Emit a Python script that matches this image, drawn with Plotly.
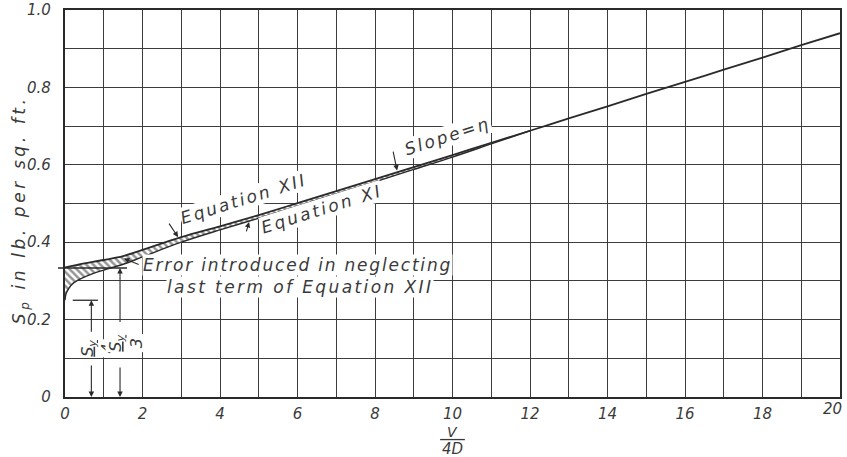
import plotly.graph_objects as go

# ---------------- data ----------------
x_ticks = list(range(0, 21))
x_ticktext = ["0", "", "2", "", "4", "", "6", "", "8", "", "10", "", "12", "", "14", "", "16", "", "18", "", "20"]
y_ticks = [0, 0.1, 0.2, 0.3, 0.4, 0.5, 0.6, 0.7, 0.8, 0.9, 1.0]
y_ticktext = ["0", "", "0.2", "", "0.4", "", "0.6", "", "0.8", "", "1.0"]

# Equation XII (upper curve, starts at Sy/3)
x_eq12 = [0, 0.25, 0.5, 1, 1.5, 2, 3, 4, 5, 6, 7, 8, 9, 10, 11, 12, 13, 14, 15, 16, 17, 18, 19, 20]
y_eq12 = [0.335, 0.340, 0.345, 0.354, 0.364, 0.380, 0.413, 0.441, 0.470, 0.501, 0.532, 0.563, 0.594,
          0.625, 0.657, 0.688, 0.720, 0.751, 0.783, 0.814, 0.846, 0.877, 0.909, 0.940]

# Equation XI (lower curve, starts at Sy/4)
x_eq11 = [0, 0.03, 0.1, 0.2, 0.4, 0.7, 1, 1.5, 2, 3, 4, 5, 6, 7, 8, 9, 10, 11, 12]
y_eq11 = [0.250, 0.268, 0.281, 0.293, 0.305, 0.318, 0.328, 0.343, 0.362, 0.400, 0.432, 0.462, 0.493,
          0.525, 0.556, 0.588, 0.620, 0.654, 0.688]

INK = "#2a2a2a"
TXT = "#3a3a3a"
FONT = "DejaVu Sans"


def spaced(t, px=2):
    return f'<span style="letter-spacing:{px}px">{t}</span>'


fig = go.Figure()

# hatched band between the two equations
band_x = x_eq12[:16] + x_eq11[::-1]
band_y = y_eq12[:16] + y_eq11[::-1]
fig.add_trace(go.Scatter(
    x=band_x, y=band_y, mode="lines", fill="toself", line=dict(width=0, color=INK),
    fillcolor="white",
    fillpattern=dict(shape="\\", fgcolor=INK, bgcolor="white", size=5, solidity=0.5),
    hoverinfo="skip", showlegend=False, line_shape="spline"))

fig.add_trace(go.Scatter(x=x_eq11, y=y_eq11, mode="lines", line=dict(color=INK, width=1.4, shape="spline"),
                         showlegend=False, name="Equation XI"))
fig.add_trace(go.Scatter(x=x_eq12, y=y_eq12, mode="lines", line=dict(color=INK, width=1.8, shape="spline"),
                         showlegend=False, name="Equation XII"))

tick_font = dict(family=FONT, size=15, color=TXT, style="italic")
axis_common = dict(showline=True, linecolor=INK, linewidth=2.2, mirror=True, automargin=False,
                   showgrid=True, gridcolor="#3c3c3c", gridwidth=1.3, zeroline=False,
                   ticks="", tickfont=tick_font)

# last x label drawn right-aligned so it stays inside the page
x_ticktext_axis = x_ticktext[:-1] + [""]

fig.update_layout(
    width=847, height=457,
    margin=dict(l=65, r=7, t=10, b=60),
    paper_bgcolor="white", plot_bgcolor="white",
    xaxis=dict(range=[0, 20], tickvals=x_ticks, ticktext=x_ticktext_axis, ticklabelstandoff=2, **axis_common),
    yaxis=dict(range=[0, 1.0], tickvals=y_ticks, ticktext=y_ticktext, ticklabelstandoff=9, **axis_common),
)
fig.add_annotation(xref="x", yref="paper", x=x_ticks[-1], y=0, xanchor="right", yanchor="top",
                   xshift=4, yshift=-1, showarrow=False, text=x_ticktext[-1], font=tick_font)

# axis titles
fig.add_annotation(xref="paper", yref="paper", x=-0.058, y=0.483, xanchor="center", yanchor="middle",
                   textangle=-90, showarrow=False,
                   text=spaced("S<sub>p</sub> in lb. per sq. ft.", 3.6),
                   font=dict(family=FONT, size=17, color=TXT, style="italic"))
fig.add_annotation(xref="x", yref="paper", x=10, y=0, yshift=-35, showarrow=False, yanchor="middle",
                   borderpad=0, text="V", font=dict(family=FONT, size=14, color=TXT, style="italic"))
fig.add_annotation(xref="x", yref="paper", x=10, y=0, yshift=-52, showarrow=False, yanchor="middle",
                   borderpad=0, text="4D", font=dict(family=FONT, size=15, color=TXT, style="italic"))
fig.add_shape(type="line", xref="x", yref="paper", x0=9.68, x1=10.32, y0=-0.11, y1=-0.11,
              line=dict(color=TXT, width=1.3))

lab_font = dict(family=FONT, size=17, color=TXT, style="italic")

# main labels
fig.add_annotation(x=1.98, y=0.341, xanchor="left", showarrow=False, bgcolor="white", borderpad=0,
                   text=spaced("Error introduced in neglecting", 1.8), font=lab_font)
fig.add_annotation(x=2.6, y=0.285, xanchor="left", showarrow=False, bgcolor="white", borderpad=0,
                   text=spaced("last term of Equation XII", 2.4), font=lab_font)
fig.add_annotation(x=4.6, y=0.512, textangle=-17.5, showarrow=False, bgcolor="white", borderpad=0,
                   text=spaced("Equation XII", 2.4), font=lab_font)
fig.add_annotation(x=6.63, y=0.485, textangle=-17.5, showarrow=False, bgcolor="white", borderpad=0,
                   text=spaced("Equation XI", 2.6), font=lab_font)
fig.add_annotation(x=9.88, y=0.674, textangle=-18, showarrow=False, bgcolor="white", borderpad=0,
                   text=spaced("Slope=η", 2.4), font=lab_font)

# leader arrows (head, tail)
leaders = [
    ((2.92, 0.413), (2.66, 0.452)),
    ((4.75, 0.452), (4.67, 0.424)),
    ((8.57, 0.585), (8.46, 0.638)),
    ((1.52, 0.358), (1.94, 0.341)),
]
for (hx, hy), (tx, ty) in leaders:
    fig.add_annotation(x=hx, y=hy, ax=tx, ay=ty, axref="x", ayref="y", text="", showarrow=True,
                       arrowhead=2, arrowsize=1, arrowwidth=1.1, arrowcolor=INK)

# dimension lines for Sy/4 and Sy/3
fig.add_shape(type="line", x0=0.2, x1=0.85, y0=0.25, y1=0.25, line=dict(color=INK, width=1.3))
fig.add_shape(type="line", xref="paper", x0=-0.009, x1=0.08, y0=1/3, y1=1/3, line=dict(color=INK, width=1.3))

dims = [
    (0.68, 0.25, 0.165, 0.085, 0.125, "<u>S<sub>y</sub></u><br>4"),
    (1.42, 1/3, 0.19, 0.08, 0.14, "<u>S<sub>y</sub></u><br>3"),
]
for xd, ytop, ybreak_hi, ybreak_lo, ytext, label in dims:
    fig.add_annotation(x=xd, y=ytop, ax=xd, ay=ybreak_hi, axref="x", ayref="y", text="", showarrow=True,
                       arrowhead=2, arrowsize=1, arrowwidth=1.1, arrowcolor=INK)
    fig.add_annotation(x=xd, y=0, ax=xd, ay=ybreak_lo, axref="x", ayref="y", text="", showarrow=True,
                       arrowhead=2, arrowsize=1, arrowwidth=1.1, arrowcolor=INK)
    fig.add_annotation(x=xd + 0.15, y=ytext, textangle=-90, showarrow=False, bgcolor="white", borderpad=0,
                       text=label, font=dict(family=FONT, size=16, color=TXT, style="italic"))

fig.write_html("out.html")
